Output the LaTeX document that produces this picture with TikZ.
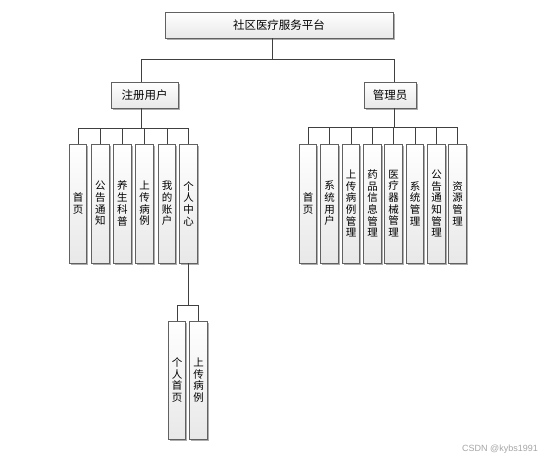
\documentclass[tikz,border=0pt]{standalone}
\usepackage{fontspec}
\setmainfont{Noto Sans CJK SC}
\newfontfamily\wmfont{Liberation Sans}
\usetikzlibrary{shadows}
\begin{document}
\begin{tikzpicture}[x=1pt,y=-1pt,
 box/.style={draw=black!62, line width=0.9pt, top color=white, bottom color=black!9, inner sep=0pt,
   drop shadow={shadow xshift=1.6pt, shadow yshift=-1.6pt, fill=black!40, opacity=0.8}},
 hbox/.style={box, minimum height=26pt, font=\fontsize{11.5}{13}\selectfont},
 vbox/.style={box, minimum width=17.5pt, minimum height=119pt, align=center, font=\fontsize{10.5}{11.7}\selectfont},
 conn/.style={draw=black!75, line width=0.8pt}]
\useasboundingbox (0,0) rectangle (542,461);
\fill[white] (0,0) rectangle (542,461);

\node[hbox, minimum width=228pt] (top) at (279,25) {社区医疗服务平台};
\node[hbox, minimum width=67pt] (reg) at (144.5,95) {注册用户};
\node[hbox, minimum width=52pt] (adm) at (390,95) {管理员};

\node[vbox] (u1) at (78,203.5) {首\\页};
\node[vbox] (u2) at (100.3,203.5) {公\\告\\通\\知};
\node[vbox] (u3) at (122.5,203.5) {养\\生\\科\\普};
\node[vbox] (u4) at (144.5,203.5) {上\\传\\病\\例};
\node[vbox] (u5) at (167,203.5) {我\\的\\账\\户};
\node[vbox] (u6) at (188.5,203.5) {个\\人\\中\\心};

\node[vbox] (a1) at (308,203.5) {首\\页};
\node[vbox] (a2) at (329.5,203.5) {系\\统\\用\\户};
\node[vbox] (a3) at (351,203.5) {上\\传\\病\\例\\管\\理};
\node[vbox] (a4) at (372.5,203.5) {药\\品\\信\\息\\管\\理};
\node[vbox] (a5) at (393.5,203.5) {医\\疗\\器\\械\\管\\理};
\node[vbox] (a6) at (415,203.5) {系\\统\\管\\理};
\node[vbox] (a7) at (436.5,203.5) {公\\告\\通\\知\\管\\理};
\node[vbox] (a8) at (457.5,203.5) {资\\源\\管\\理};

\node[vbox, minimum height=118pt] (p1) at (177,380) {个\\人\\首\\页};
\node[vbox, minimum height=118pt] (p2) at (198.5,380) {上\\传\\病\\例};

\node[font=\wmfont\fontsize{9}{10}\selectfont, text=black!35, anchor=east, inner sep=0pt] (wm) at (538,449) {CSDN @kybs1991};

\draw[conn] ([xshift=-7pt]top.south) -- ++(0,21) coordinate (j0);
\draw[conn] ([xshift=-3.5pt]reg.north) |- (j0) -| ([xshift=4pt]adm.north);

\draw[conn] ([xshift=-3.5pt]reg.south) -- ++(0,20) coordinate (j1);
\foreach \n in {u1,u2,u3,u4,u5,u6} \draw[conn] (j1) -| (\n.north);

\draw[conn] ([xshift=4pt]adm.south) -- ++(0,19) coordinate (j2);
\foreach \n in {a1,a2,a3,a4,a5,a6,a7,a8} \draw[conn] (j2) -| (\n.north);

\draw[conn] (u6.south) -- ++(0,42) coordinate (j3);
\foreach \n in {p1,p2} \draw[conn] (j3) -| (\n.north);
\end{tikzpicture}
\end{document}
